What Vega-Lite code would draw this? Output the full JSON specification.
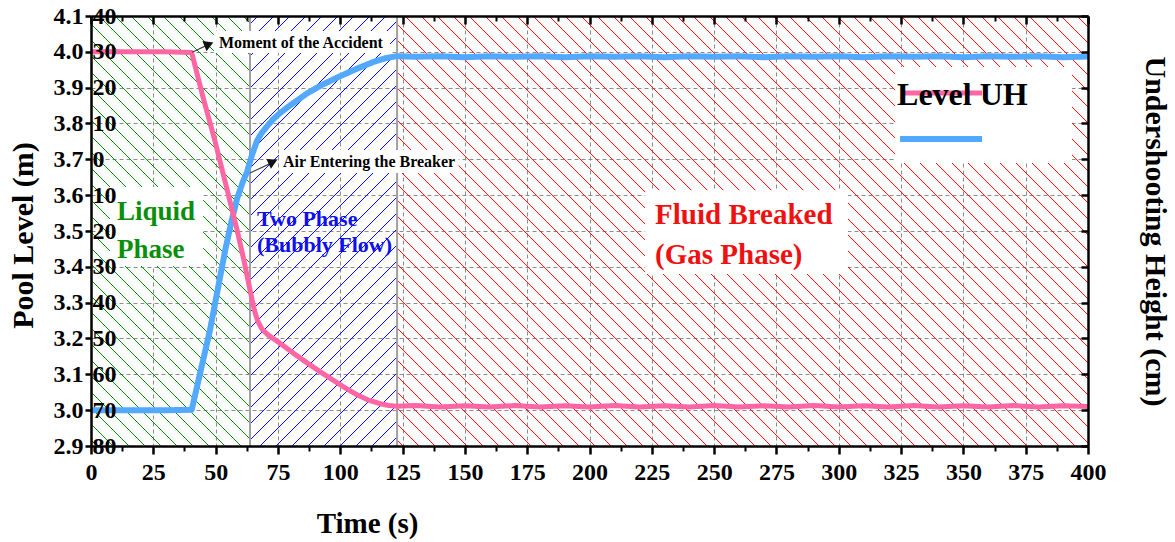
{
"$schema":"https://vega.github.io/schema/vega-lite/v6.json",
"width":997,"height":430,
"autosize":{"type":"none"},
"padding":{"left":91,"top":16,"right":87,"bottom":96},
"background":"#ffffff",
"data":{"values":[{}]},
"datasets":{
"series":[
{"series":"Level","t":0,"level":4.0},{"series":"Level","t":10,"level":4.0},{"series":"Level","t":20,"level":4.0},{"series":"Level","t":30,"level":4.0},{"series":"Level","t":40.4,"level":3.998},{"series":"Level","t":45,"level":3.872},{"series":"Level","t":49.7,"level":3.752},{"series":"Level","t":54,"level":3.632},{"series":"Level","t":58.6,"level":3.503},{"series":"Level","t":61.3,"level":3.42},{"series":"Level","t":63.8,"level":3.335},{"series":"Level","t":65.5,"level":3.28},{"series":"Level","t":66.8,"level":3.25},{"series":"Level","t":68.6,"level":3.226},{"series":"Level","t":71,"level":3.21},{"series":"Level","t":75.8,"level":3.187},{"series":"Level","t":81,"level":3.16},{"series":"Level","t":86.7,"level":3.132},{"series":"Level","t":92,"level":3.107},{"series":"Level","t":97.1,"level":3.084},{"series":"Level","t":102,"level":3.062},{"series":"Level","t":106.7,"level":3.043},{"series":"Level","t":111,"level":3.029},{"series":"Level","t":116,"level":3.018},{"series":"Level","t":119.5,"level":3.013},{"series":"Level","t":122.8,"level":3.011},{"series":"Level","t":130,"level":3.013},{"series":"Level","t":140,"level":3.009},{"series":"Level","t":150,"level":3.012},{"series":"Level","t":160,"level":3.009},{"series":"Level","t":170,"level":3.013},{"series":"Level","t":180,"level":3.009},{"series":"Level","t":190,"level":3.012},{"series":"Level","t":200,"level":3.009},{"series":"Level","t":210,"level":3.013},{"series":"Level","t":220,"level":3.009},{"series":"Level","t":230,"level":3.012},{"series":"Level","t":240,"level":3.009},{"series":"Level","t":250,"level":3.013},{"series":"Level","t":260,"level":3.009},{"series":"Level","t":270,"level":3.012},{"series":"Level","t":280,"level":3.009},{"series":"Level","t":290,"level":3.013},{"series":"Level","t":300,"level":3.009},{"series":"Level","t":310,"level":3.012},{"series":"Level","t":320,"level":3.009},{"series":"Level","t":330,"level":3.013},{"series":"Level","t":340,"level":3.009},{"series":"Level","t":350,"level":3.012},{"series":"Level","t":360,"level":3.009},{"series":"Level","t":370,"level":3.013},{"series":"Level","t":380,"level":3.009},{"series":"Level","t":390,"level":3.012},{"series":"Level","t":400,"level":3.01},
{"series":"UH","t":0,"level":3.0},{"series":"UH","t":10,"level":3.0},{"series":"UH","t":20,"level":3.0},{"series":"UH","t":30,"level":3.0},{"series":"UH","t":40.4,"level":3.001},{"series":"UH","t":44,"level":3.11},{"series":"UH","t":47.7,"level":3.222},{"series":"UH","t":50.8,"level":3.335},{"series":"UH","t":53.8,"level":3.445},{"series":"UH","t":56.3,"level":3.525},{"series":"UH","t":58.6,"level":3.59},{"series":"UH","t":60.8,"level":3.635},{"series":"UH","t":62.6,"level":3.665},{"series":"UH","t":64.5,"level":3.71},{"series":"UH","t":66.6,"level":3.752},{"series":"UH","t":68.5,"level":3.774},{"series":"UH","t":70.6,"level":3.792},{"series":"UH","t":73,"level":3.811},{"series":"UH","t":75.8,"level":3.829},{"series":"UH","t":80,"level":3.851},{"series":"UH","t":86.7,"level":3.884},{"series":"UH","t":93,"level":3.909},{"series":"UH","t":99.9,"level":3.932},{"series":"UH","t":106,"level":3.951},{"series":"UH","t":113,"level":3.971},{"series":"UH","t":118,"level":3.982},{"series":"UH","t":122.8,"level":3.988},{"series":"UH","t":130,"level":3.986},{"series":"UH","t":140,"level":3.988},{"series":"UH","t":150,"level":3.985},{"series":"UH","t":160,"level":3.988},{"series":"UH","t":170,"level":3.986},{"series":"UH","t":180,"level":3.988},{"series":"UH","t":190,"level":3.985},{"series":"UH","t":200,"level":3.988},{"series":"UH","t":210,"level":3.986},{"series":"UH","t":220,"level":3.988},{"series":"UH","t":230,"level":3.985},{"series":"UH","t":240,"level":3.988},{"series":"UH","t":250,"level":3.986},{"series":"UH","t":260,"level":3.988},{"series":"UH","t":270,"level":3.985},{"series":"UH","t":280,"level":3.988},{"series":"UH","t":290,"level":3.986},{"series":"UH","t":300,"level":3.988},{"series":"UH","t":310,"level":3.985},{"series":"UH","t":320,"level":3.988},{"series":"UH","t":330,"level":3.986},{"series":"UH","t":340,"level":3.988},{"series":"UH","t":350,"level":3.985},{"series":"UH","t":360,"level":3.988},{"series":"UH","t":370,"level":3.986},{"series":"UH","t":380,"level":3.988},{"series":"UH","t":390,"level":3.985},{"series":"UH","t":400,"level":3.987}
],
"regions":[{"phase":"Liquid","start":0,"end":63.8},{"phase":"Two Phase","start":63.8,"end":122.8},{"phase":"Gas","start":122.8,"end":400}]
},
"config":{
"view":{"stroke":null},
"axis":{"labelFont":"Liberation Serif","titleFont":"Liberation Serif","labelFontWeight":"bold","titleFontWeight":"bold","labelColor":"#000","titleColor":"#000","tickColor":"#000","domainColor":"#000","labelFontSize":24,"tickWidth":2.5,"domainWidth":2.5,"grid":false,"gridColor":"#8c8c8c","gridDash":[4,3],"gridWidth":1,"labelFlush":false,"labelOverlap":false}
},
"resolve":{"axis":{"x":"independent","y":"independent"}},
"layer":[
{"data":{"name":"regions"},"transform":[{"filter":"datum.phase === 'Liquid'"}],
"mark":{"type":"point","clip":true,"filled":false,"size":4,"opacity":1,"strokeOpacity":1,"strokeWidth":1,"shape":"M0,424l6,6M0,408l22,22M0,392l38,38M0,376l54,54M0,360l70,70M0,344l86,86M0,328l102,102M0,312l118,118M0,296l134,134M0,280l150,150M0,264l159,159M0,248l159,159M0,232l159,159M0,216l159,159M0,200l159,159M0,184l159,159M0,168l159,159M0,152l159,159M0,136l159,159M0,120l159,159M0,104l159,159M0,88l159,159M0,72l159,159M0,56l159,159M0,40l159,159M0,24l159,159M0,8l159,159M8,0l151,151M24,0l135,135M40,0l119,119M56,0l103,103M72,0l87,87M88,0l71,71M104,0l55,55M120,0l39,39M136,0l23,23M152,0l7,7"},
"encoding":{"x":{"field":"start","type":"quantitative","axis":null},"y":{"datum":4.1,"axis":null},"stroke":{"value":"#009000"},"color":{"value":"#009000"}}},
{"data":{"name":"regions"},"transform":[{"filter":"datum.phase === 'Two Phase'"}],
"mark":{"type":"point","clip":true,"filled":false,"size":4,"opacity":1,"strokeOpacity":1,"strokeWidth":1,"shape":"M8,0l-8,8M24,0l-24,24M40,0l-40,40M56,0l-56,56M72,0l-72,72M88,0l-88,88M104,0l-104,104M120,0l-120,120M136,0l-136,136M147,5l-147,147M147,21l-147,147M147,37l-147,147M147,53l-147,147M147,69l-147,147M147,85l-147,147M147,101l-147,147M147,117l-147,147M147,133l-147,147M147,149l-147,147M147,165l-147,147M147,181l-147,147M147,197l-147,147M147,213l-147,147M147,229l-147,147M147,245l-147,147M147,261l-147,147M147,277l-147,147M147,293l-137,137M147,309l-121,121M147,325l-105,105M147,341l-89,89M147,357l-73,73M147,373l-57,57M147,389l-41,41M147,405l-25,25M147,421l-9,9"},
"encoding":{"x":{"field":"start","type":"quantitative","axis":null},"y":{"datum":4.1,"axis":null},"stroke":{"value":"#0000ff"},"color":{"value":"#0000ff"}}},
{"data":{"name":"regions"},"transform":[{"filter":"datum.phase === 'Gas'"}],
"mark":{"type":"point","clip":true,"filled":false,"size":4,"opacity":1,"strokeOpacity":1,"strokeWidth":1,"shape":"M0,424l6,6M0,408l22,22M0,392l38,38M0,376l54,54M0,360l70,70M0,344l86,86M0,328l102,102M0,312l118,118M0,296l134,134M0,280l150,150M0,264l166,166M0,248l182,182M0,232l198,198M0,216l214,214M0,200l230,230M0,184l246,246M0,168l262,262M0,152l278,278M0,136l294,294M0,120l310,310M0,104l326,326M0,88l342,342M0,72l358,358M0,56l374,374M0,40l390,390M0,24l406,406M0,8l422,422M8,0l430,430M24,0l430,430M40,0l430,430M56,0l430,430M72,0l430,430M88,0l430,430M104,0l430,430M120,0l430,430M136,0l430,430M152,0l430,430M168,0l430,430M184,0l430,430M200,0l430,430M216,0l430,430M232,0l430,430M248,0l430,430M264,0l427,427M280,0l411,411M296,0l395,395M312,0l379,379M328,0l363,363M344,0l347,347M360,0l331,331M376,0l315,315M392,0l299,299M408,0l283,283M424,0l267,267M440,0l251,251M456,0l235,235M472,0l219,219M488,0l203,203M504,0l187,187M520,0l171,171M536,0l155,155M552,0l139,139M568,0l123,123M584,0l107,107M600,0l91,91M616,0l75,75M632,0l59,59M648,0l43,43M664,0l27,27M680,0l11,11"},
"encoding":{"x":{"field":"start","type":"quantitative","axis":null},"y":{"datum":4.1,"axis":null},"stroke":{"value":"#ff0000"},"color":{"value":"#ff0000"}}},
{"data":{"name":"regions"},"transform":[{"filter":"datum.end < 400"}],"mark":{"type":"rule","stroke":"#a0a0a0","strokeWidth":2},"encoding":{"x":{"field":"end","type":"quantitative","axis":null}}},
{"mark":{"type":"rect","fill":"#ffffff"},"encoding":{"x":{"datum":7.6,"axis":null},"x2":{"datum":45.0},"y":{"datum":3.623,"axis":null},"y2":{"datum":3.402}}},
{"mark":{"type":"rect","fill":"#ffffff"},"encoding":{"x":{"datum":222.3,"axis":null},"x2":{"datum":303.7},"y":{"datum":3.614,"axis":null},"y2":{"datum":3.38}}},
{"mark":{"type":"rect","fill":"#ffffff"},"encoding":{"x":{"datum":49.3,"axis":null},"x2":{"datum":120.0},"y":{"datum":4.058,"axis":null},"y2":{"datum":3.997}}},
{"mark":{"type":"rect","fill":"#ffffff"},"encoding":{"x":{"datum":75.4,"axis":null},"x2":{"datum":147.5},"y":{"datum":3.726,"axis":null},"y2":{"datum":3.662}}},
{"mark":{"type":"rect","fill":"#ffffff"},"encoding":{"x":{"datum":322.6,"axis":null},"x2":{"datum":393.6},"y":{"datum":3.958,"axis":null},"y2":{"datum":3.69}}},
{"data":{"name":"series"},"transform":[{"filter":"datum.series === 'UH'"}],
"mark":{"type":"line","strokeWidth":6,"strokeJoin":"round"},
"encoding":{
"x":{"field":"t","type":"quantitative","scale":{"domain":[0,400],"nice":false},"axis":{"orient":"top","values":[0,25,50,75,100,125,150,175,200,225,250,275,300,325,350,375,400],"labels":false,"tickSize":-8,"title":null,"zindex":1}},
"y":{"field":"level","type":"quantitative","scale":{"domain":[2.9,4.1],"nice":false,"zero":false},"axis":{"orient":"right","values":[2.9,3.0,3.1,3.2,3.3,3.4,3.5,3.6,3.7,3.8,3.9,4.0,4.1],"labels":false,"tickSize":-7,"title":"Undershooting Height (cm)","titleFontSize":30,"titleAngle":90,"titleX":57,"titleY":215,"titleAlign":"center","titleBaseline":"alphabetic","zindex":1}},
"color":{"field":"series","type":"nominal","scale":{"domain":["Level","UH"],"range":["#ff66a3","#52a9ff"]},"legend":null}}},
{"data":{"name":"series"},"transform":[{"filter":"datum.series === 'Level'"}],
"mark":{"type":"line","strokeWidth":5,"strokeJoin":"round"},
"encoding":{
"x":{"field":"t","type":"quantitative","scale":{"domain":[0,400],"nice":false},"axis":{"orient":"bottom","values":[0,25,50,75,100,125,150,175,200,225,250,275,300,325,350,375,400],"format":"d","tickSize":8,"labelPadding":6,"title":"Time (s)","titleFontSize":29,"titleX":276,"titleY":86,"titleAlign":"center","titleBaseline":"alphabetic","titleAngle":0,"zindex":1}},
"y":{"field":"level","type":"quantitative","scale":{"domain":[2.9,4.1],"nice":false,"zero":false},"axis":{"orient":"left","values":[2.9,3.0,3.1,3.2,3.3,3.4,3.5,3.6,3.7,3.8,3.9,4.0,4.1],"format":".1f","tickSize":6,"labelPadding":2,"title":"Pool Level (m)","titleFontSize":30,"titleAngle":-90,"titleX":-59,"titleY":219,"titleAlign":"center","titleBaseline":"alphabetic","zindex":1}},
"color":{"field":"series","type":"nominal","scale":{"domain":["Level","UH"],"range":["#ff66a3","#52a9ff"]},"legend":null}}},
{"mark":{"type":"text","text":"Liquid\nPhase","lineBreak":"\n","lineHeight":38,"font":"Liberation Serif","fontWeight":"bold","fontSize":27,"fill":"#0a8f0a","align":"left","baseline":"alphabetic"},"encoding":{"x":{"datum":10.4,"axis":null},"y":{"datum":3.531,"axis":null}}},
{"mark":{"type":"text","text":"Two Phase\n(Bubbly Flow)","lineBreak":"\n","lineHeight":26,"font":"Liberation Serif","fontWeight":"bold","fontSize":22,"fill":"#1010ee","align":"left","baseline":"alphabetic"},"encoding":{"x":{"datum":66.6,"axis":null},"y":{"datum":3.514,"axis":null}}},
{"mark":{"type":"text","text":"Fluid Breaked\n(Gas Phase)","lineBreak":"\n","lineHeight":40,"font":"Liberation Serif","fontWeight":"bold","fontSize":29,"fill":"#ee1111","align":"left","baseline":"alphabetic"},"encoding":{"x":{"datum":226.3,"axis":null},"y":{"datum":3.519,"axis":null}}},
{"mark":{"type":"text","text":"Moment of the Accident","font":"Liberation Serif","fontWeight":"bold","fontSize":16,"fill":"#000","align":"left","baseline":"alphabetic"},"encoding":{"x":{"datum":51.35,"axis":null},"y":{"datum":4.011,"axis":null}}},
{"mark":{"type":"text","text":"Air Entering the Breaker","font":"Liberation Serif","fontWeight":"bold","fontSize":16,"fill":"#000","align":"left","baseline":"alphabetic"},"encoding":{"x":{"datum":77.0,"axis":null},"y":{"datum":3.679,"axis":null}}},
{"mark":{"type":"rule","stroke":"#444","strokeWidth":1.2},"encoding":{"x":{"datum":40.6,"axis":null},"y":{"datum":3.999,"axis":null},"x2":{"datum":47.0},"y2":{"datum":4.02}}},
{"mark":{"type":"rule","stroke":"#444","strokeWidth":1.2},"encoding":{"x":{"datum":63.8,"axis":null},"y":{"datum":3.662,"axis":null},"x2":{"datum":72.5},"y2":{"datum":3.69}}},
{"mark":{"type":"point","shape":"triangle-right","filled":true,"size":120,"angle":-22,"opacity":1},"encoding":{"x":{"datum":47.3,"axis":null},"y":{"datum":4.021,"axis":null},"color":{"value":"#111111"}}},
{"mark":{"type":"point","shape":"triangle-right","filled":true,"size":120,"angle":-25,"opacity":1},"encoding":{"x":{"datum":73.0,"axis":null},"y":{"datum":3.693,"axis":null},"color":{"value":"#111111"}}},
{"mark":{"type":"rule","stroke":"#ff66a3","strokeWidth":5},"encoding":{"x":{"datum":326.6,"axis":null},"x2":{"datum":357.5},"y":{"datum":3.885,"axis":null}}},
{"mark":{"type":"rule","stroke":"#52a9ff","strokeWidth":6},"encoding":{"x":{"datum":324.6,"axis":null},"x2":{"datum":357.5},"y":{"datum":3.757,"axis":null}}},
{"mark":{"type":"text","text":"Level UH","font":"Liberation Serif","fontWeight":"bold","fontSize":32,"fill":"#000","align":"left","baseline":"alphabetic"},"encoding":{"x":{"datum":323.4,"axis":null},"y":{"datum":3.852,"axis":null}}},
{"data":{"name":"series"},"mark":{"type":"point","opacity":0},
"encoding":{
"x":{"field":"t","type":"quantitative","axis":{"orient":"bottom","values":[12.5,37.5,62.5,87.5,112.5,137.5,162.5,187.5,212.5,237.5,262.5,287.5,312.5,337.5,362.5,387.5],"labels":false,"domain":false,"tickSize":5,"tickWidth":2,"title":null,"zindex":1}},
"y":{"field":"level","type":"quantitative","axis":{"orient":"left","values":[2.9,3.0,3.1,3.2,3.3,3.4,3.5,3.6,3.7,3.8,3.9,4.0,4.1],"labelExpr":"format(abs(datum.value-3.7)*100,'.0f')","labelAlign":"left","labelPadding":-1,"ticks":false,"tickSize":0,"domain":false,"title":null,"zindex":1}}}},
{"data":{"name":"series"},"mark":{"type":"point","opacity":0},
"encoding":{
"x":{"field":"t","type":"quantitative","axis":{"orient":"top","values":[12.5,37.5,62.5,87.5,112.5,137.5,162.5,187.5,212.5,237.5,262.5,287.5,312.5,337.5,362.5,387.5],"labels":false,"domain":false,"tickSize":-5,"tickWidth":2,"title":null,"zindex":1}},
"y":{"field":"level","type":"quantitative","axis":null}}},
{"data":{"name":"series"},"mark":{"type":"point","opacity":0},
"encoding":{
"x":{"field":"t","type":"quantitative","axis":{"orient":"bottom","values":[0,25,50,75,100,125,150,175,200,225,250,275,300,325,350,375,400],"grid":true,"labels":false,"ticks":false,"domain":false,"title":null,"zindex":0}},
"y":{"field":"level","type":"quantitative","axis":{"orient":"left","values":[2.9,3.0,3.1,3.2,3.3,3.4,3.5,3.6,3.7,3.8,3.9,4.0,4.1],"grid":true,"labels":false,"ticks":false,"domain":false,"title":null,"zindex":0}}}}
]
}
